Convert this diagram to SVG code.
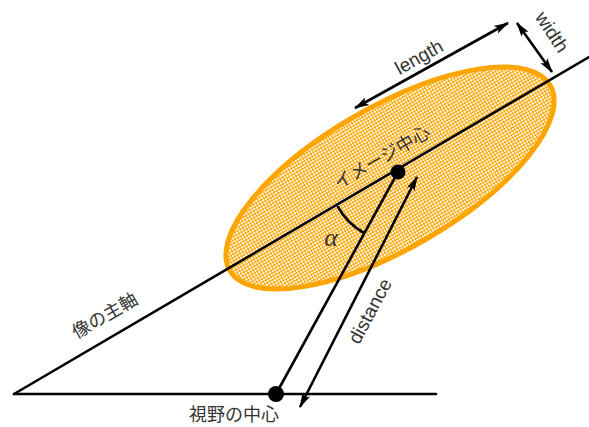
<svg xmlns="http://www.w3.org/2000/svg" width="589" height="427" viewBox="0 0 589 427">
<style>
.ln{stroke:#000;stroke-width:2.6;fill:none;stroke-linecap:round}
.arw{stroke:#000;stroke-width:2.6;fill:none;marker-start:url(#ah);marker-end:url(#ah)}
.lbl{font-family:"Liberation Sans","Noto Sans CJK JP",sans-serif;font-size:19px;fill:#333;text-anchor:middle;dominant-baseline:central}
.jp{font-family:"Noto Sans CJK JP","Liberation Sans",sans-serif;font-size:18px;fill:#333;text-anchor:middle;dominant-baseline:central}
</style>
<defs>
<pattern id="dots" width="3" height="3" patternUnits="userSpaceOnUse">
<rect width="3" height="3" fill="#FFA500"/>
<rect x="1" y="1" width="2" height="2" fill="#fff"/>
</pattern>
<marker id="ah" viewBox="0 0 14 10" refX="13" refY="5" markerWidth="15" markerHeight="11" markerUnits="userSpaceOnUse" orient="auto-start-reverse">
<path d="M0,1 L14,5 L0,9 L3,5 Z" fill="#000"/>
</marker>
</defs>
<g id="ellipse">
<ellipse cx="390" cy="178" rx="185" ry="71" transform="rotate(-30 390 178)" fill="url(#dots)" stroke="#FFA500" stroke-width="5"/>
</g>
<g id="connectors">
<line class="ln" x1="14" y1="394" x2="589" y2="57"/>
<line class="ln" x1="14" y1="394" x2="436" y2="394"/>
<line class="ln" x1="398" y1="172" x2="276" y2="394"/>
<path class="ln" d="M338,207 A70,70 0 0 0 364,233"/>
<line class="arw" x1="300" y1="407" x2="417" y2="177"/>
<line class="arw" x1="355" y1="108" x2="508" y2="23"/>
<line class="arw" x1="517" y1="23" x2="552" y2="72"/>
</g>
<g id="image-center">
<circle cx="398" cy="172" r="7.5" fill="#000"/>
<text class="jp" transform="translate(381,156) rotate(-30)">イメージ中心</text>
</g>
<g id="field-center">
<circle cx="276" cy="394" r="8" fill="#000"/>
<text class="jp" x="234" y="413">視野の中心</text>
</g>
<g id="axis-label">
<text class="jp" transform="translate(104,314) rotate(-30)">像の主軸</text>
</g>
<g id="alpha">
<text x="331" y="237" font-family="Liberation Serif,serif" font-style="italic" font-size="26" fill="#333" text-anchor="middle" dominant-baseline="central">α</text>
</g>
<g id="labels">
<text class="lbl" transform="translate(419,57) rotate(-29)">length</text>
<text class="lbl" transform="translate(552,32) rotate(57)">width</text>
<text class="lbl" transform="translate(370,311) rotate(-62)">distance</text>
</g>
</svg>
